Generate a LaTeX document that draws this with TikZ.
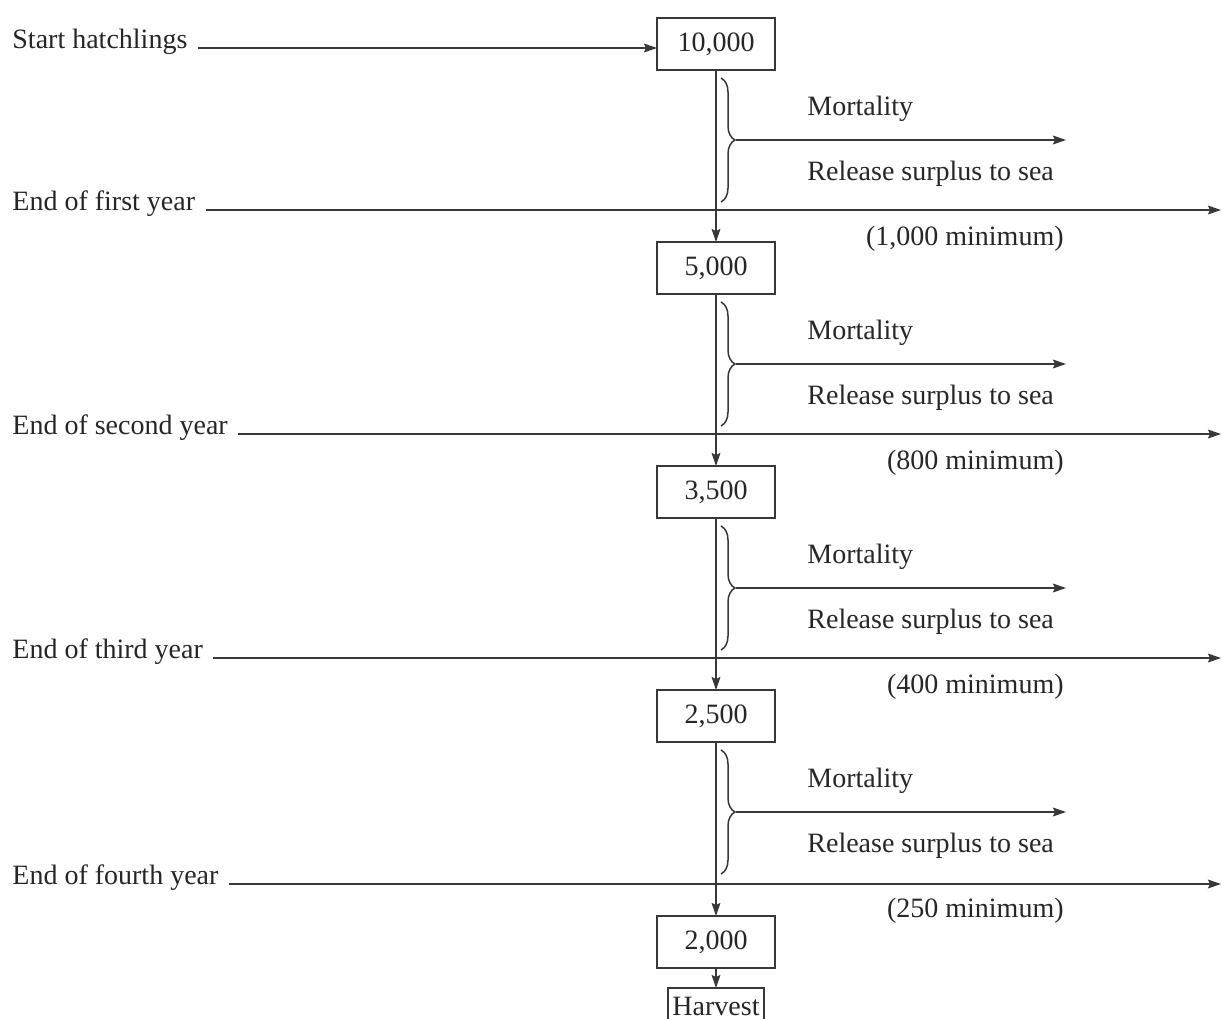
\documentclass[tikz,border=0pt]{standalone}
\usepackage{fontspec}
\setmainfont{Liberation Serif}
\usetikzlibrary{arrows.meta,positioning,calc,decorations.pathreplacing}

\begin{document}
\begin{tikzpicture}[
    x=0.5pt,y=-0.5pt,
    >={Stealth[length=6.5pt,width=4.4pt,inset=1pt]},
    line/.style={draw=black!78, line width=0.75pt},
    countbox/.style={
        draw=black!78,
        line width=0.75pt,
        minimum width=59pt,
        minimum height=26pt,
        inner sep=0pt,
        outer sep=0pt,
        text=black!85,
        font=\fontsize{14}{16}\selectfont
    },
    label/.style={font=\fontsize{14}{16}\selectfont, text=black!85, inner sep=0pt},
    brace/.style={line, decorate, decoration={brace, amplitude=7pt}}
]

% ===== page frame =====
\useasboundingbox (0,0) rectangle (1223,1019);
\coordinate (leftedge) at (12,0);
\coordinate (rightedge) at (1221,0);
\coordinate (sideend) at (1066,0);

% ===== population boxes =====
\node[countbox] (n0) at (716,44) {10,000};
\node[countbox, below=86pt of n0] (n1) {5,000};
\node[countbox, below=86pt of n1] (n2) {3,500};
\node[countbox, below=86pt of n2] (n3) {2,500};
\node[countbox, below=87pt of n3] (n4) {2,000};
\node[countbox, minimum width=48pt, minimum height=18pt, below=10pt of n4] (harvest) {Harvest};

% input arrow
\node[label, anchor=base west] (y0) at (12,48) {Start hatchlings};
\draw[line,->] ($(y0.base east)+(10,0)$) -- (y0.base east -| n0.west);

% ===== one year per pass =====
\foreach \i/\j/\yr/\mn in {0/1/first/{1,000},1/2/second/800,2/3/third/400,3/4/fourth/250} {
  % year line
  \path (n\j.center) ++(0,-58) coordinate (yl\j);
  \node[label, anchor=base west] (y\j) at (leftedge |- yl\j) {End of \yr\ year};
  \draw[line,->] ($(y\j.base east)+(10,0)$) -- (y\j.base east -| rightedge);

  % survivors go on
  \draw[line,->] (n\i) -- (n\j);

  % losses leave to the side
  \draw[brace] ($(n\i.south)+(5,8)$) -- ($(n\i.south)+(5,132)$);
  \coordinate (tip\i) at ($(n\i.south)+(20,70)$);
  \draw[line,->] (tip\i) -- (tip\i -| sideend);
  \node[label, anchor=base west] (m\i) at ($(n\i.center)+(91,71)$) {Mortality};
  \node[label, anchor=base west] (r\i) at ($(n\i.center)+(91,136)$) {Release surplus to sea};
  \node[label, anchor=base east] (q\i) at ($(n\i.center)+(348,201)$) {(\mn\ minimum)};
}

% output
\draw[line,->] (n4) -- (harvest);
\end{tikzpicture}
\end{document}
